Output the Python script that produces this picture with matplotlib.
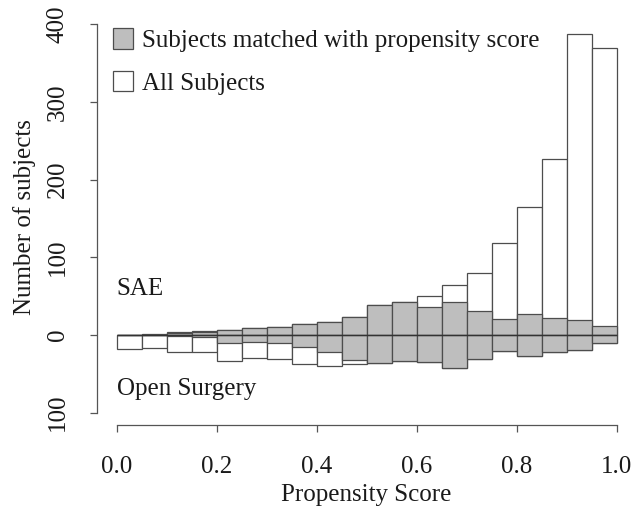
import numpy as np
import matplotlib
matplotlib.use("Agg")
import matplotlib.pyplot as plt
from matplotlib.patches import Patch

# Propensity score histogram: 20 bins of width 0.05 on [0, 1]
bin_width = 0.05
bin_starts = np.round(np.arange(0.0, 1.0, bin_width), 2)

# Counts per bin, SAE group (drawn upward)
sae_all = [0, 1, 4, 5, 6, 9, 10, 14, 16, 23, 39, 43, 50, 64, 80, 118, 165, 226, 388, 369]
sae_matched = [0, 0, 3, 4, 6, 9, 10, 14, 16, 23, 39, 42, 36, 43, 31, 21, 27, 22, 19, 11]

# Counts per bin, open surgery group (drawn downward)
open_all = [18, 17, 22, 22, 34, 30, 31, 38, 40, 38, 36, 34, 35, 42, 31, 21, 27, 22, 19, 11]
open_matched = [0, 0, 2, 3, 10, 9, 11, 16, 22, 32, 36, 34, 35, 42, 31, 21, 27, 22, 19, 11]

y_ticks = [-100, 0, 100, 200, 300, 400]
y_tick_labels = ["100", "0", "100", "200", "300", "400"]
x_ticks = [0.0, 0.2, 0.4, 0.6, 0.8, 1.0]
x_tick_labels = ["0.0", "0.2", "0.4", "0.6", "0.8", "1.0"]

plt.rcParams["font.family"] = ["Liberation Serif", "DejaVu Serif"]
text_color = "#1a1a1a"
edge_color = "#4d4d4d"
fill_gray = "#bebebe"
fs = 18

fig = plt.figure(figsize=(6.34, 5.11), dpi=100)
ax = fig.add_axes([0.1525, 0.1683, 0.8517, 0.8146])

# all subjects (white) underneath, matched subjects (gray) on top
ax.bar(bin_starts, sae_all, width=bin_width, align="edge",
       facecolor="white", edgecolor=edge_color, linewidth=0.9, zorder=2)
ax.bar(bin_starts, -np.asarray(open_all), width=bin_width, align="edge",
       facecolor="white", edgecolor=edge_color, linewidth=0.9, zorder=2)
ax.bar(bin_starts, sae_matched, width=bin_width, align="edge",
       facecolor=fill_gray, edgecolor=edge_color, linewidth=0.9, zorder=3)
ax.bar(bin_starts, -np.asarray(open_matched), width=bin_width, align="edge",
       facecolor=fill_gray, edgecolor=edge_color, linewidth=0.9, zorder=3)
ax.hlines(0, bin_starts[0], bin_starts[-1] + bin_width, color="#333333",
          linewidth=1.0, zorder=4)

ax.set_xlim(-0.04, 1.04)
ax.set_ylim(-116, 420)

for side in ("top", "right"):
    ax.spines[side].set_visible(False)
ax.spines["left"].set_bounds(-100, 400)
ax.spines["bottom"].set_bounds(0, 1)
for side in ("left", "bottom"):
    ax.spines[side].set_color("#555555")
    ax.spines[side].set_linewidth(0.9)

ax.set_xticks(x_ticks)
ax.set_xticklabels(x_tick_labels, fontsize=fs, color=text_color)
ax.set_yticks(y_ticks)
ax.set_yticklabels(y_tick_labels, fontsize=fs, color=text_color,
                   rotation=90, va="center")
ax.tick_params(axis="both", direction="out", length=5, width=0.9,
               color="#555555")
ax.tick_params(axis="x", pad=17)
ax.tick_params(axis="y", pad=15)

ax.set_xlabel("Propensity Score", fontsize=fs, color=text_color, labelpad=5)
ax.set_ylabel("Number of subjects", fontsize=fs, color=text_color, labelpad=8)

ax.text(0.0, 59, "SAE", fontsize=fs, color=text_color, ha="left", va="center")
ax.text(0.0, -70, "Open Surgery", fontsize=fs, color=text_color,
        ha="left", va="center")

handles = [Patch(facecolor=fill_gray, edgecolor=edge_color, linewidth=0.9),
           Patch(facecolor="white", edgecolor=edge_color, linewidth=0.9)]
labels = ["Subjects matched with propensity score", "All Subjects"]
leg = ax.legend(handles, labels, loc="upper left",
                bbox_to_anchor=(113 / 634, 1 - 28 / 511),
                bbox_transform=fig.transFigure, frameon=False,
                fontsize=fs, borderpad=0, borderaxespad=0,
                handlelength=0.8, handleheight=0.9, handletextpad=0.35,
                labelspacing=0.75)
for t in leg.get_texts():
    t.set_color(text_color)

fig.savefig("out.png", dpi=100)
